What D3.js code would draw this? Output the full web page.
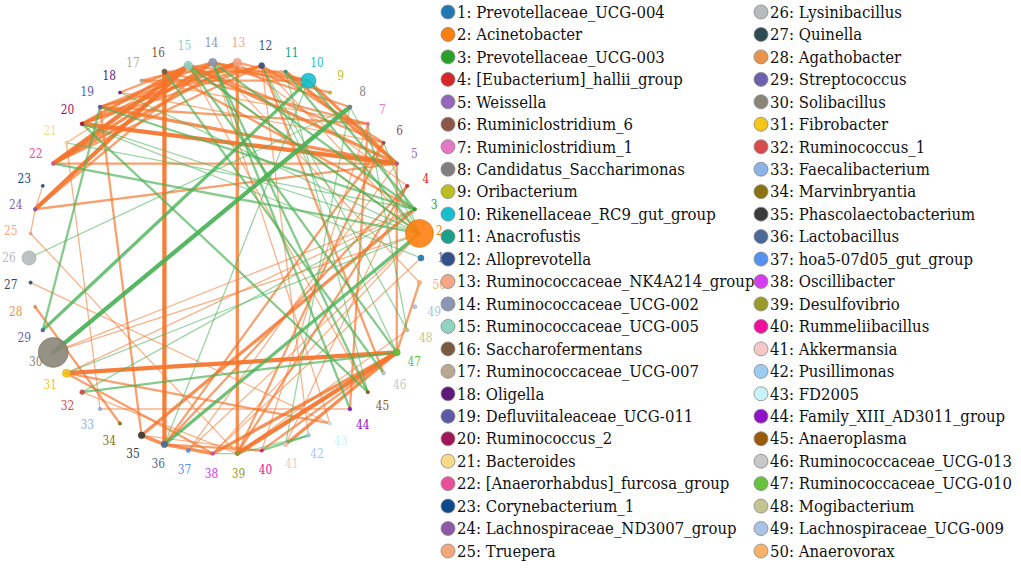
<!DOCTYPE html>
<html>
<head>
<meta charset="utf-8">
<script src="https://cdn.jsdelivr.net/npm/d3@7"></script>
<style>
  body { margin: 0; background: #fff; }
</style>
</head>
<body>
<svg width="1021" height="569"></svg>
<script>
// genus names, in node order 1..50
const taxa = [
  'Prevotellaceae_UCG-004', 'Acinetobacter', 'Prevotellaceae_UCG-003', '[Eubacterium]_hallii_group',
  'Weissella', 'Ruminiclostridium_6', 'Ruminiclostridium_1', 'Candidatus_Saccharimonas',
  'Oribacterium', 'Rikenellaceae_RC9_gut_group', 'Anacrofustis', 'Alloprevotella',
  'Ruminococcaceae_NK4A214_group', 'Ruminococcaceae_UCG-002', 'Ruminococcaceae_UCG-005',
  'Saccharofermentans', 'Ruminococcaceae_UCG-007', 'Oligella', 'Defluviitaleaceae_UCG-011',
  'Ruminococcus_2', 'Bacteroides', '[Anaerorhabdus]_furcosa_group', 'Corynebacterium_1',
  'Lachnospiraceae_ND3007_group', 'Truepera', 'Lysinibacillus', 'Quinella', 'Agathobacter',
  'Streptococcus', 'Solibacillus', 'Fibrobacter', 'Ruminococcus_1', 'Faecalibacterium',
  'Marvinbryantia', 'Phascolaectobacterium', 'Lactobacillus', 'hoa5-07d05_gut_group',
  'Oscillibacter', 'Desulfovibrio', 'Rummeliibacillus', 'Akkermansia', 'Pusillimonas',
  'FD2005', 'Family_XIII_AD3011_group', 'Anaeroplasma', 'Ruminococcaceae_UCG-013',
  'Ruminococcaceae_UCG-010', 'Mogibacterium', 'Lachnospiraceae_UCG-009', 'Anaerovorax'
]

const nodeColors = [
  '#1f77b4', '#ff7f0e', '#2ca02c', '#d62728', '#9467bd', '#8c564b', '#e377c2', '#7f7f7f',
  '#bcbd22', '#17becf', '#18a08a', '#34508a', '#f4a58a', '#8c96b4', '#8fd3c0', '#7a5a40',
  '#b8a890', '#5e1a78', '#5c59a6', '#a4145a', '#f7d98a', '#ea4f9a', '#0d4a8c', '#8e5aa8',
  '#f4a67a', '#b6bcbc', '#2f4b52', '#e8944a', '#6c5fae', '#8a8578', '#f5c518', '#d84b4b',
  '#8ab4e6', '#8c7312', '#3a3a3a', '#4a6a98', '#5592f0', '#d63cf0', '#9a9a2a', '#f0109c',
  '#f7c6c6', '#9ecbf2', '#c8f4f8', '#9012c8', '#9a5a0a', '#c8c8c8', '#66c23a', '#c4c490',
  '#a9c4e6', '#f7b26a'
]

// relative abundance, sets the node size
const abundance = [
  3.8, 87, 1.2, 1.2, 1.2, 1.2, 1.2, 1.5, 1.2, 25,
  1, 3.6, 7.1, 7.1, 8, 2.8, 1.2, 1, 1.5, 1.5,
  1, 1.2, 1, 1.2, 1, 22, 1.2, 1, 1.5, 100,
  7.1, 2.4, 1.2, 1.2, 4.8, 4.4, 1.8, 1.2, 1.8, 1.2,
  2.2, 1.5, 1.2, 1.5, 1.2, 1.5, 5.4, 1.2, 1.8, 1.8
]

// [source, target, correlation weight]; > 0 positive (orange), < 0 negative (green)
const links = [
  [16, 36, 4], [13, 39, 3], [22, 15, 4], [22, 14, 3], [22, 13, 3], [22, 12, 2],
  [24, 15, 4], [24, 14, 2], [20, 15, 3], [20, 13, 3], [20, 12, 2], [19, 14, 2],
  [19, 12, 2], [18, 15, 2], [17, 14, 2], [21, 15, 1], [20, 5, 4], [19, 5, 3],
  [22, 5, 2], [24, 5, 2], [15, 5, 3], [15, 6, 2], [16, 7, 2], [14, 8, 2],
  [13, 10, 2], [12, 6, 2], [11, 5, 3], [10, 5, 3], [10, 17, 2], [9, 14, 2],
  [16, 3, 2], [15, 2, 1], [17, 7, 1], [18, 6, 1], [19, 7, 2], [13, 4, 1],
  [12, 2, 1], [23, 24, 1], [24, 25, 1], [25, 39, 1], [21, 33, 1], [27, 43, 1],
  [28, 34, 2], [19, 35, 2], [35, 3, 3], [35, 36, 3], [36, 38, 3], [36, 4, 2],
  [36, 6, 2], [36, 40, 2], [35, 40, 1], [31, 47, 4], [31, 38, 2], [31, 43, 2],
  [31, 3, 1], [30, 3, 1], [30, 2, 1], [32, 39, 1], [47, 39, 4], [47, 38, 3],
  [47, 41, 3], [47, 40, 2], [47, 50, 2], [47, 5, 2], [44, 7, 2], [44, 33, 1],
  [39, 4, 2], [39, 6, 2], [38, 2, 1], [37, 5, 1], [39, 48, 1], [41, 4, 1],
  [40, 7, 1], [43, 14, 1], [42, 12, 1], [46, 12, 2], [45, 15, 1], [13, 19, 2],
  [16, 11, 2], [14, 10, 2], [15, 10, 2], [50, 14, 1], [2, 37, 1], [1, 38, 1],
  [30, 8, -4], [29, 10, -3], [29, 19, -2], [26, 8, -1], [36, 2, -3], [32, 47, -2],
  [32, 3, -1], [45, 20, -2], [45, 14, -2], [45, 11, -1], [47, 15, -2], [47, 12, -1],
  [40, 42, -2], [39, 38, -1], [39, 42, -1], [22, 2, -2], [19, 3, -2], [20, 2, -1],
  [14, 3, -2], [15, 2, -2], [10, 3, -2], [11, 2, -2], [12, 48, -1], [16, 46, -2],
  [14, 44, -2], [21, 3, -1], [18, 2, -1], [8, 2, -1], [6, 2, -1], [7, 48, -1],
  [36, 10, -1], [41, 8, -1], [1, 20, -1], [31, 2, -1]
]

const serif = '"DejaVu Serif", serif'
const svg = d3.select('svg')
const cx = 225, cy = 258, R = 196, labelR = 216

const nodes = taxa.map((name, i) => ({id: i + 1, name: name, color: nodeColors[i], size: abundance[i]}))

const angle = d3.scaleLinear().domain([0, nodes.length]).range([0, 2 * Math.PI])
const rScale = d3.scaleSqrt().domain([0, d3.max(abundance)]).range([0, 15])
const wScale = d3.scaleLinear().domain([1, 4]).range([1.3, 4.3])
const oScale = d3.scaleLinear().domain([1, 4]).range([0.55, 0.92])

nodes.forEach((d, i) => {
  d.x = cx + R * Math.cos(angle(i))
  d.y = cy - R * Math.sin(angle(i))
  d.lx = cx + labelR * Math.cos(angle(i))
  d.ly = cy - labelR * Math.sin(angle(i))
})

const net = svg.append('g')

net.selectAll('line').data(links)
  .enter().append('line')
    .attr('x1', d => nodes[d[0] - 1].x)
    .attr('y1', d => nodes[d[0] - 1].y)
    .attr('x2', d => nodes[d[1] - 1].x)
    .attr('y2', d => nodes[d[1] - 1].y)
    .attr('stroke', d => d[2] > 0 ? '#f5732a' : '#48b255')
    .attr('stroke-width', d => wScale(Math.abs(d[2])))
    .attr('stroke-opacity', d => oScale(Math.abs(d[2])))
    .attr('stroke-linecap', 'round')

net.selectAll('circle').data(nodes)
  .enter().append('circle')
    .attr('cx', d => d.x)
    .attr('cy', d => d.y)
    .attr('r', d => rScale(d.size))
    .attr('fill', d => d.color)
    .attr('fill-opacity', 0.9)
    .attr('stroke', d => d3.color(d.color).darker(0.4))
    .attr('stroke-width', 0.6)

net.selectAll('text').data(nodes)
  .enter().append('text')
    .attr('transform', d => `translate(${d.lx},${d.ly}) scale(0.85,1)`)
    .attr('text-anchor', 'middle')
    .attr('dominant-baseline', 'central')
    .style('font-family', serif)
    .style('font-size', '12.5px')
    .attr('fill', d => d.color)
    .text(d => d.id)

// legend, two columns of 25
const legend = svg.append('g')
const colX = [448, 761]
const rowY = d3.scaleLinear().domain([0, 24]).range([12, 551])

const item = legend.selectAll('g').data(nodes)
  .enter().append('g')
    .attr('transform', (d, i) => `translate(${colX[Math.floor(i / 25)]},${rowY(i % 25)})`)

item.append('circle')
  .attr('r', 7)
  .attr('fill', d => d.color)
  .attr('stroke', '#888')
  .attr('stroke-width', 0.8)

const labels = item.append('text')
  .attr('x', 9)
  .attr('dominant-baseline', 'central')
  .style('font-family', serif)
  .style('font-size', '16.5px')
  .attr('fill', '#111')
  .text(d => `${d.id}: ${d.name}`)

// squeeze the installed serif horizontally so the first entry is ~208px wide, as in the figure
const k = Math.min(1, 208 / labels.node().getComputedTextLength())
labels.attr('transform', `scale(${k},1)`).attr('x', 9 / k)

// second column drawn over the first so long names tuck under its dots
legend.selectAll('g').filter((d, i) => i >= 25).raise()
</script>
</body>
</html>
